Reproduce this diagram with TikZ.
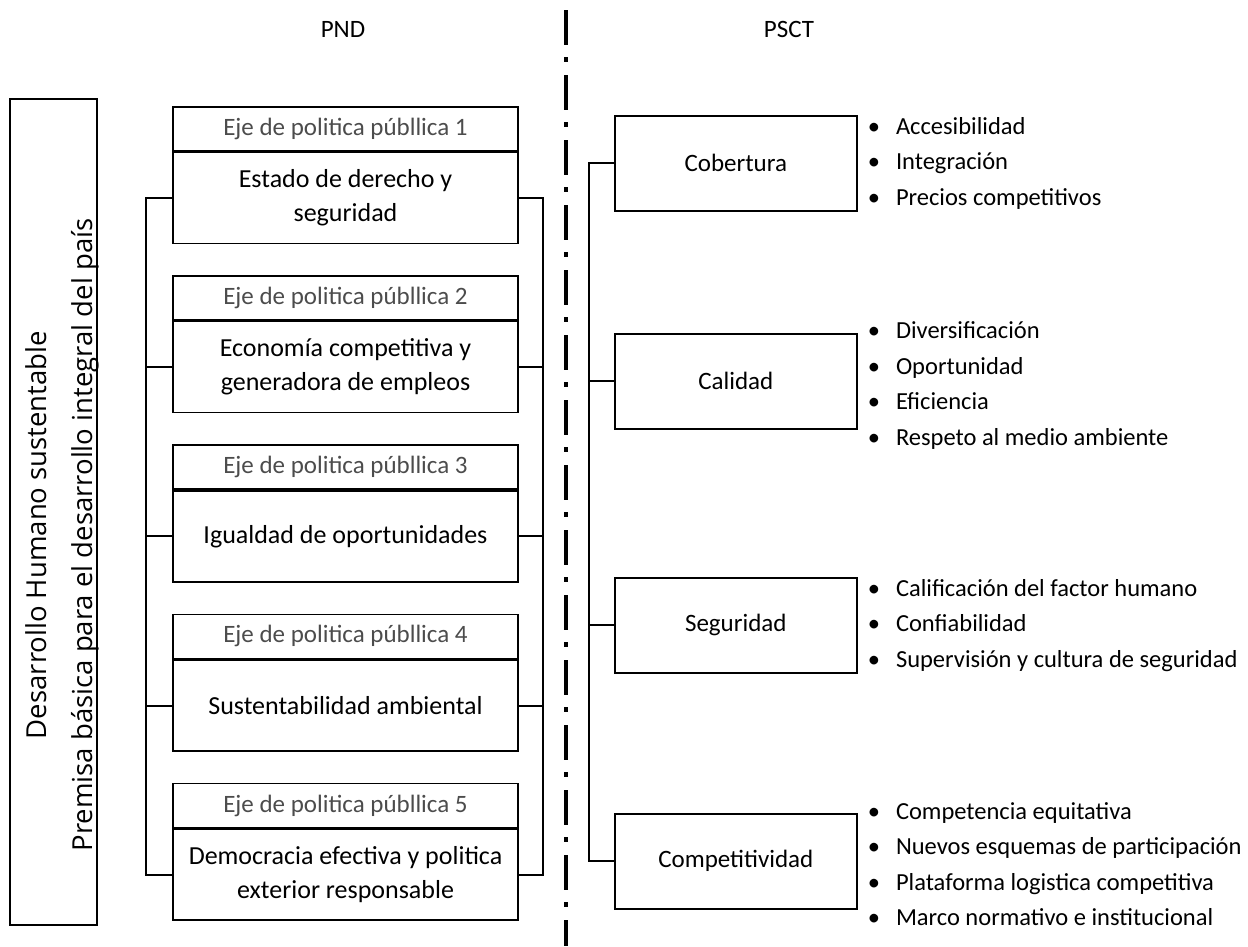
\documentclass[tikz,border=0pt]{standalone}
\usepackage{fontspec}
\setmainfont{Carlito}
\newfontfamily\sidefont{Open Sans}
\usetikzlibrary{positioning}

\begin{document}
\begin{tikzpicture}[
    x=1pt, y=-1pt,
    node distance=31pt and 10pt,
    every node/.style={inner sep=0pt, font=\fontsize{25}{29}\selectfont},
    header/.style={draw, line width=1.6pt, minimum width=345pt, minimum height=44pt, text=black!70},
    policy/.style={draw, line width=1.6pt, minimum width=345pt, minimum height=91pt, align=center,
      font=\fontsize{26}{34}\selectfont},
    pillar/.style={draw, line width=1.6pt, minimum width=242pt, minimum height=95pt},
    items/.style={align=left, font=\fontsize{24.5}{35.5}\selectfont},
    link/.style={line width=2pt}
  ]

  \useasboundingbox (0,0) rectangle (1248,946);

  % Titles
  \node (pnd) at (343,29) {PND};
  \node (psct) at (789,29) {PSCT};

  % Left frame
  \node[draw, line width=1.6pt, minimum width=87pt, minimum height=826pt] (frame) at (53.5,512) {};
  \node[rotate=90, align=center, font=\sidefont\fontsize{27.5}{46}\selectfont] (premisa) at (62,535)
    {Desarrollo Humano sustentable\\Premisa básica para el desarrollo integral del país};

  % PND axes
  \node[header, anchor=north] (eje1) at (345.5,106) {Eje de politica públlica 1};
  \node[policy, below=0pt of eje1] (pol1) {Estado de derecho y\\seguridad};
  \node[header, below=of pol1] (eje2) {Eje de politica públlica 2};
  \node[policy, below=0pt of eje2] (pol2) {Economía competitiva y\\generadora de empleos};
  \node[header, below=of pol2] (eje3) {Eje de politica públlica 3};
  \node[policy, below=0pt of eje3] (pol3) {Igualdad de oportunidades};
  \node[header, below=of pol3] (eje4) {Eje de politica públlica 4};
  \node[policy, below=0pt of eje4] (pol4) {Sustentabilidad ambiental};
  \node[header, below=of pol4] (eje5) {Eje de politica públlica 5};
  \node[policy, below=0pt of eje5] (pol5) {Democracia efectiva y politica\\exterior responsable};

  % Brackets for PND
  \draw[link] (pol1.west) -- ++(-26,0) |- (pol5.west);
  \draw[link] (pol2.west) -- ++(-26,0);
  \draw[link] (pol3.west) -- ++(-26,0);
  \draw[link] (pol4.west) -- ++(-26,0);
  \draw[link] (pol1.east) -- ++(24,0) |- (pol5.east);
  \draw[link] (pol2.east) -- ++(24,0);
  \draw[link] (pol3.east) -- ++(24,0);
  \draw[link] (pol4.east) -- ++(24,0);

  % Divider
  \coordinate (cut top) at (566,10);
  \coordinate (cut bottom) at (566,946);
  \draw[line width=4.5pt, dash pattern=on 35pt off 12pt on 5pt off 13pt] (cut top) -- (cut bottom);

  % PSCT pillars
  \node[pillar, anchor=north west] (cob) at (614,115) {Cobertura};
  \node[pillar, anchor=north west] (cal) at (614,333) {Calidad};
  \node[pillar, anchor=north west] (seg) at (614,577) {Seguridad};
  \node[pillar, anchor=north west] (com) at (614,813) {Competitividad};

  % Bracket for PSCT
  \draw[link] (cob.west) -- ++(-25,0) |- (com.west);
  \draw[link] (cal.west) -- ++(-25,0);
  \draw[link] (seg.west) -- ++(-25,0);

  % Items
  \node[items, right=of cob] (cobitems)
    {\textbullet\hspace{16pt}Accesibilidad\\\textbullet\hspace{16pt}Integración\\\textbullet\hspace{16pt}Precios competitivos};
  \node[items, right=of cal, yshift=-4pt] (calitems)
    {\textbullet\hspace{16pt}Diversificación\\\textbullet\hspace{16pt}Oportunidad\\\textbullet\hspace{16pt}Eficiencia\\\textbullet\hspace{16pt}Respeto al medio ambiente};
  \node[items, right=of seg] (segitems)
    {\textbullet\hspace{16pt}Calificación del factor humano\\\textbullet\hspace{16pt}Confiabilidad\\\textbullet\hspace{16pt}Supervisión y cultura de seguridad};
  \node[items, right=of com, yshift=-3pt] (comitems)
    {\textbullet\hspace{16pt}Competencia equitativa\\\textbullet\hspace{16pt}Nuevos esquemas de participación\\\textbullet\hspace{16pt}Plataforma logistica competitiva\\\textbullet\hspace{16pt}Marco normativo e institucional};

\end{tikzpicture}
\end{document}
